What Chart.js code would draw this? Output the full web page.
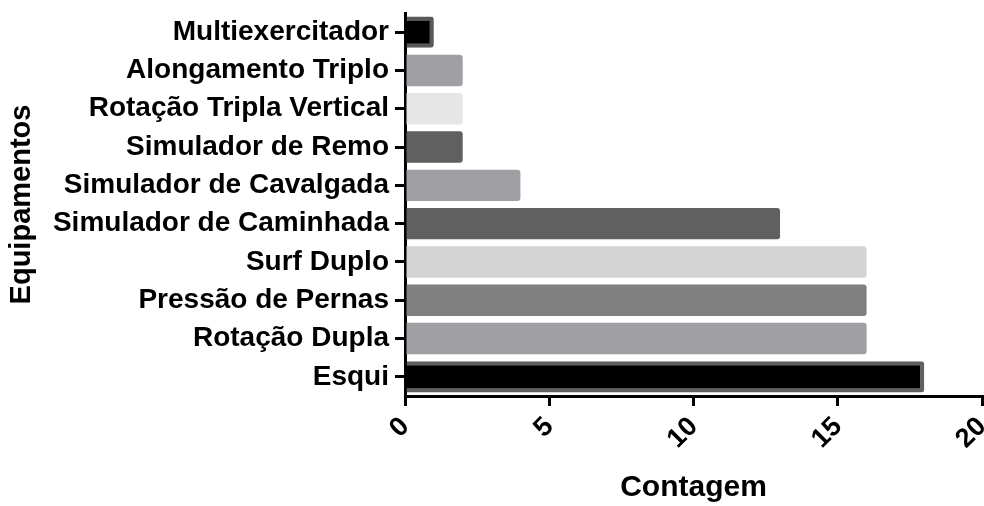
<!DOCTYPE html>
<html>
<head>
<meta charset="utf-8">
<script src="https://cdn.jsdelivr.net/npm/chart.js@4"></script>
<style>
  body { margin: 0; background: #fff; }
  #wrap { width: 984px; height: 506px; }
</style>
</head>
<body>
<div id="wrap"><canvas id="equipChart"></canvas></div>
<script>
// data, top to bottom
const equipamentos = [
  "Multiexercitador",
  "Alongamento Triplo",
  "Rotação Tripla Vertical",
  "Simulador de Remo",
  "Simulador de Cavalgada",
  "Simulador de Caminhada",
  "Surf Duplo",
  "Pressão de Pernas",
  "Rotação Dupla",
  "Esqui",
];
const contagem = [1, 2, 2, 2, 4, 13, 16, 16, 16, 18];
const xTicks = [0, 5, 10, 15, 20];

const barColors = ["#000000", "#a0a0a4", "#e6e6e6", "#606060", "#a0a0a4",
                   "#606060", "#d4d4d4", "#808080", "#a0a0a4", "#000000"];
const edgeColors = ["#5a5a5a", "#a0a0a4", "#e6e6e6", "#606060", "#a0a0a4",
                    "#606060", "#d4d4d4", "#808080", "#a0a0a4", "#606060"];
const edgeWidths = [4, 0, 0, 0, 0, 0, 0, 0, 0, 4];

const font = "'Liberation Sans', Arial, sans-serif";
const ctx = document.getElementById("equipChart").getContext("2d");

new Chart(ctx, {
  type: "bar",
  data: {
    labels: equipamentos,
    datasets: [{
      data: contagem,
      backgroundColor: barColors,
      borderColor: edgeColors,
      borderWidth: edgeWidths,
      borderRadius: 3,
      borderSkipped: "start",
      barPercentage: 0.82,
      categoryPercentage: 1,
    }],
  },
  options: {
    indexAxis: "y",
    responsive: true,
    maintainAspectRatio: false,
    animation: false,
    layout: { padding: { top: 13, right: 2, left: 0, bottom: 0 } },
    plugins: { legend: { display: false }, tooltip: { enabled: false } },
    scales: {
      x: {
        min: 0,
        max: 20,
        afterBuildTicks: (s) => { s.ticks = xTicks.map(v => ({ value: v })); },
        afterFit: (s) => { s.height = 110; s.paddingRight = 0; s.paddingLeft = 0; },
        border: { display: true, color: "#000", width: 3 },
        grid: { drawOnChartArea: false, drawTicks: true, tickLength: 10, color: "#000", lineWidth: 3 },
        ticks: {
          color: "#000",
          minRotation: 45,
          maxRotation: 45,
          padding: 5,
          font: { family: font, size: 27, weight: "bold" },
        },
        title: {
          display: true,
          text: "Contagem",
          color: "#000",
          padding: { top: 0, bottom: 0 },
          font: { family: font, size: 30, weight: "bold" },
        },
      },
      y: {
        afterFit: (s) => { s.width = 405; s.paddingTop = 0; s.paddingBottom = 0; },
        border: { display: true, color: "#000", width: 3 },
        grid: { offset: false, drawOnChartArea: false, drawTicks: true, tickLength: 10, color: "#000", lineWidth: 3 },
        ticks: {
          color: "#000",
          padding: 6,
          font: { family: font, size: 28, weight: "bold" },
        },
        title: {
          display: true,
          text: "Equipamentos",
          color: "#000",
          padding: { top: 5, bottom: 0 },
          font: { family: font, size: 29, weight: "bold" },
        },
      },
    },
  },
});
</script>
</body>
</html>
